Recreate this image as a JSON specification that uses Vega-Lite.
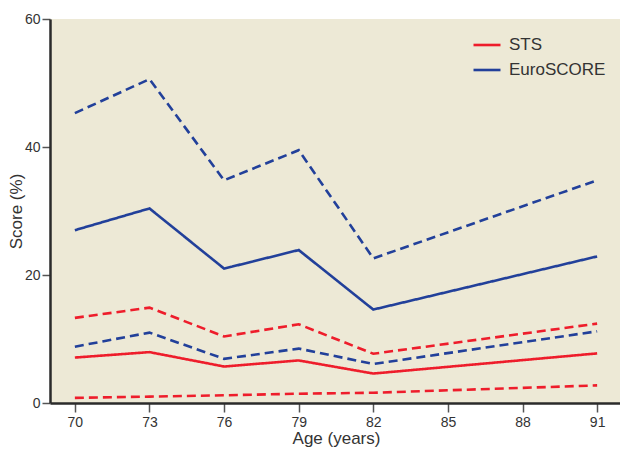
{
  "$schema": "https://vega.github.io/schema/vega-lite/v6.json",
  "autosize": {"type": "none"},
  "padding": {"left": 50, "top": 19, "right": 0, "bottom": 47},
  "width": 572,
  "height": 384,
  "background": "white",
  "config": {
    "view": {"fill": "#EDE9D6", "stroke": null},
    "font": "Liberation Sans"
  },
  "data": {
    "values": [
      {"age": 70, "score": 45.3, "model": "EuroSCORE", "kind": "limit", "series": "EU upper"},
      {"age": 73, "score": 50.6, "model": "EuroSCORE", "kind": "limit", "series": "EU upper"},
      {"age": 76, "score": 34.8, "model": "EuroSCORE", "kind": "limit", "series": "EU upper"},
      {"age": 79, "score": 39.5, "model": "EuroSCORE", "kind": "limit", "series": "EU upper"},
      {"age": 82, "score": 22.6, "model": "EuroSCORE", "kind": "limit", "series": "EU upper"},
      {"age": 91, "score": 34.8, "model": "EuroSCORE", "kind": "limit", "series": "EU upper"},
      {"age": 70, "score": 27.0, "model": "EuroSCORE", "kind": "mean", "series": "EU mean"},
      {"age": 73, "score": 30.4, "model": "EuroSCORE", "kind": "mean", "series": "EU mean"},
      {"age": 76, "score": 21.0, "model": "EuroSCORE", "kind": "mean", "series": "EU mean"},
      {"age": 79, "score": 23.9, "model": "EuroSCORE", "kind": "mean", "series": "EU mean"},
      {"age": 82, "score": 14.6, "model": "EuroSCORE", "kind": "mean", "series": "EU mean"},
      {"age": 91, "score": 22.9, "model": "EuroSCORE", "kind": "mean", "series": "EU mean"},
      {"age": 70, "score": 8.8, "model": "EuroSCORE", "kind": "limit", "series": "EU lower"},
      {"age": 73, "score": 11.0, "model": "EuroSCORE", "kind": "limit", "series": "EU lower"},
      {"age": 76, "score": 6.9, "model": "EuroSCORE", "kind": "limit", "series": "EU lower"},
      {"age": 79, "score": 8.5, "model": "EuroSCORE", "kind": "limit", "series": "EU lower"},
      {"age": 82, "score": 6.1, "model": "EuroSCORE", "kind": "limit", "series": "EU lower"},
      {"age": 91, "score": 11.2, "model": "EuroSCORE", "kind": "limit", "series": "EU lower"},
      {"age": 70, "score": 13.3, "model": "STS", "kind": "limit", "series": "STS upper"},
      {"age": 73, "score": 14.9, "model": "STS", "kind": "limit", "series": "STS upper"},
      {"age": 76, "score": 10.4, "model": "STS", "kind": "limit", "series": "STS upper"},
      {"age": 79, "score": 12.3, "model": "STS", "kind": "limit", "series": "STS upper"},
      {"age": 82, "score": 7.7, "model": "STS", "kind": "limit", "series": "STS upper"},
      {"age": 91, "score": 12.4, "model": "STS", "kind": "limit", "series": "STS upper"},
      {"age": 70, "score": 7.1, "model": "STS", "kind": "mean", "series": "STS mean"},
      {"age": 73, "score": 7.95, "model": "STS", "kind": "mean", "series": "STS mean"},
      {"age": 76, "score": 5.7, "model": "STS", "kind": "mean", "series": "STS mean"},
      {"age": 79, "score": 6.65, "model": "STS", "kind": "mean", "series": "STS mean"},
      {"age": 82, "score": 4.6, "model": "STS", "kind": "mean", "series": "STS mean"},
      {"age": 91, "score": 7.75, "model": "STS", "kind": "mean", "series": "STS mean"},
      {"age": 70, "score": 0.8, "model": "STS", "kind": "limit", "series": "STS lower"},
      {"age": 73, "score": 1.0, "model": "STS", "kind": "limit", "series": "STS lower"},
      {"age": 76, "score": 1.2, "model": "STS", "kind": "limit", "series": "STS lower"},
      {"age": 79, "score": 1.45, "model": "STS", "kind": "limit", "series": "STS lower"},
      {"age": 82, "score": 1.6, "model": "STS", "kind": "limit", "series": "STS lower"},
      {"age": 91, "score": 2.75, "model": "STS", "kind": "limit", "series": "STS lower"}
    ]
  },
  "mark": {"type": "line", "strokeWidth": 2.6, "clip": false},
  "encoding": {
    "x": {
      "field": "age", "type": "quantitative",
      "scale": {"domain": [69, 92], "nice": false, "zero": false},
      "axis": {
        "title": "Age (years)", "values": [70, 73, 76, 79, 82, 85, 88, 91],
        "grid": false, "domainColor": "#2a2a2a", "domainWidth": 2.5,
        "tickColor": "#555555", "tickWidth": 1.5, "tickSize": 9,
        "labelFont": "Liberation Sans", "labelFontSize": 14, "labelColor": "#333333", "labelPadding": 3,
        "titleFont": "Liberation Sans", "titleFontSize": 17, "titleFontWeight": "normal", "titleColor": "#333333", "titlePadding": 1
      }
    },
    "y": {
      "field": "score", "type": "quantitative",
      "scale": {"domain": [0, 60], "nice": false},
      "axis": {
        "title": "Score (%)", "values": [0, 20, 40, 60],
        "grid": false, "domainColor": "#2a2a2a", "domainWidth": 2.5,
        "tickColor": "#555555", "tickWidth": 1.5, "tickSize": 8,
        "labelFont": "Liberation Sans", "labelFontSize": 14, "labelColor": "#333333", "labelPadding": 2,
        "titleFont": "Liberation Sans", "titleFontSize": 17, "titleFontWeight": "normal", "titleColor": "#333333",
        "titleX": -25, "titleBaseline": "bottom"
      }
    },
    "color": {
      "field": "model", "type": "nominal",
      "scale": {"domain": ["STS", "EuroSCORE"], "range": ["#EE1D2B", "#22409A"]},
      "legend": {
        "title": null, "orient": "none", "legendX": 422, "legendY": 11,
        "symbolType": "stroke", "symbolSize": 729, "symbolStrokeWidth": 2.6,
        "labelFont": "Liberation Sans", "labelFontSize": 17, "labelColor": "#333333",
        "rowPadding": 2, "labelOffset": 7
      }
    },
    "strokeDash": {
      "field": "kind", "type": "nominal",
      "scale": {"domain": ["mean", "limit"], "range": [[1, 0], [9, 5]]},
      "legend": null
    },
    "detail": {"field": "series", "type": "nominal"}
  }
}
